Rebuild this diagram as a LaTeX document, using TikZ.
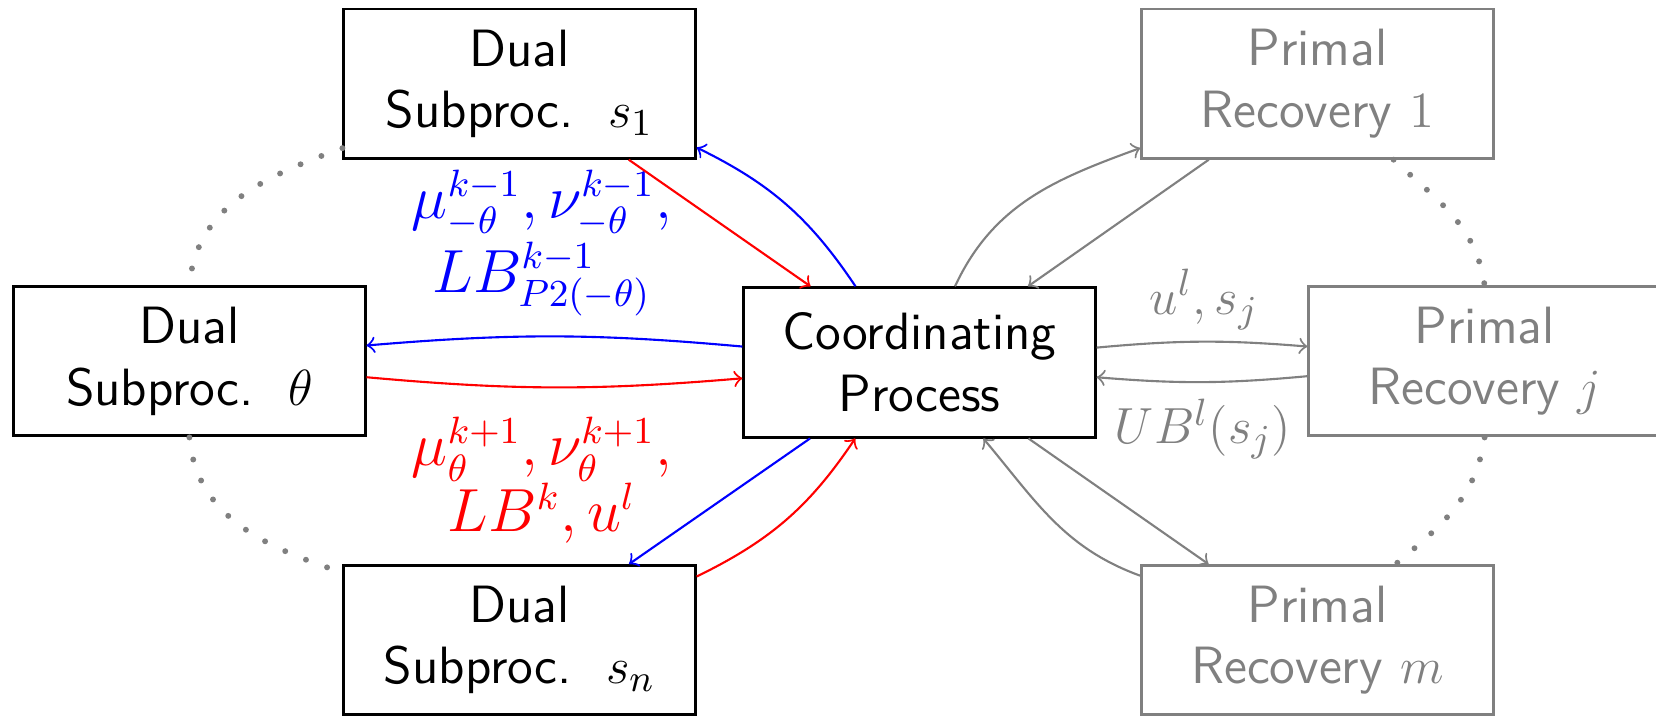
\documentclass[tikz,border=0pt]{standalone}
\usetikzlibrary{calc}
\begin{document}
\begin{tikzpicture}[x=0.25pt,y=-0.25pt,
  font=\fontsize{12.4}{14.5}\selectfont,
  box/.style={draw, line width=0.7pt, minimum width=83pt, minimum height=35.25pt,
    inner sep=0pt, align=center, font=\sffamily\fontsize{12.4}{14.5}\selectfont},
  gbox/.style={box, draw=gray, text=gray},
  lbl/.style={align=center, inner sep=0pt, font=\fontsize{13.5}{15.5}\selectfont},
  glbl/.style={lbl, text=gray, font=\fontsize{13}{15}\selectfont},
  conn/.style={->, line width=0.5pt},
  dots/.style={gray, line width=1.4pt, line cap=round, dash pattern=on 0pt off 5.3pt}]
\useasboundingbox (0,0) rectangle (1565,676);
\clip (0,0) rectangle (1565,676);
% boxes
\node[box] (s1) at (491,79) {Dual\\Subproc.\ ~$s_1$};
\node[box] (th) at (179,341.5) {Dual\\Subproc.\ ~$\theta$};
\node[box] (co) at (869,342.5) {Coordinating\\Process};
\node[box] (sn) at (491,605) {Dual\\Subproc.\ ~$s_n$};
\node[gbox] (p1) at (1245,79) {Primal\\Recovery $1$};
\node[gbox] (pj) at (1403,341.5) {Primal\\Recovery $j$};
\node[gbox] (pm) at (1245,605) {Primal\\Recovery $m$};
% labels
\node[lbl, text=blue] (lb) at (512,230) {$\mu^{k-1}_{-\theta},\nu^{k-1}_{-\theta},$\\$LB^{k-1}_{P2(-\theta)}$};
\node[lbl, text=red] (lr) at (512,454) {$\mu^{k+1}_{\theta},\nu^{k+1}_{\theta},$\\$LB^{k},u^{l}$};
\node[glbl] (lu) at (1138,283) {$u^l,s_j$};
\node[glbl] (lub) at (1137,405) {$UB^l(s_j)$};
% connectors left
\draw[conn, red] (s1) -- (co);
\draw[conn, blue] (co) to[bend right=15] (s1);
\draw[conn, blue] ($(co.west)+(0,-15)$) to[bend right=5] ($(th.east)+(0,-15)$);
\draw[conn, red] ($(th.east)+(0,15)$) to[bend right=5] ($(co.west)+(0,15)$);
\draw[conn, blue] (co) -- (sn);
\draw[conn, red] (sn) to[bend right=15] (co);
% connectors right
\draw[conn, gray] (p1) -- (co);
\draw[conn, gray] (co) to[out=65,in=200] (p1);
\draw[conn, gray] ($(co.east)+(0,-14)$) to[bend left=5] ($(pj.west)+(0,-14)$);
\draw[conn, gray] ($(pj.west)+(0,14)$) to[bend left=5] ($(co.east)+(0,14)$);
\draw[conn, gray] (co) -- (pm);
\draw[conn, gray] (pm) to[out=160,in=310] (co);
% dotted arcs
\draw[dots] ($(s1.west)+(0,61)$) to[out=200,in=85] (th.north);
\draw[dots] (th.south) to[out=275,in=162] ($(sn.west)+(0,-64)$);
\draw[dots] ($(p1.south)+(72,0)$) to[out=-43,in=98] (pj.north);
\draw[dots] (pj.south) to[out=262,in=40] ($(pm.north)+(74,0)$);
\end{tikzpicture}
\end{document}
